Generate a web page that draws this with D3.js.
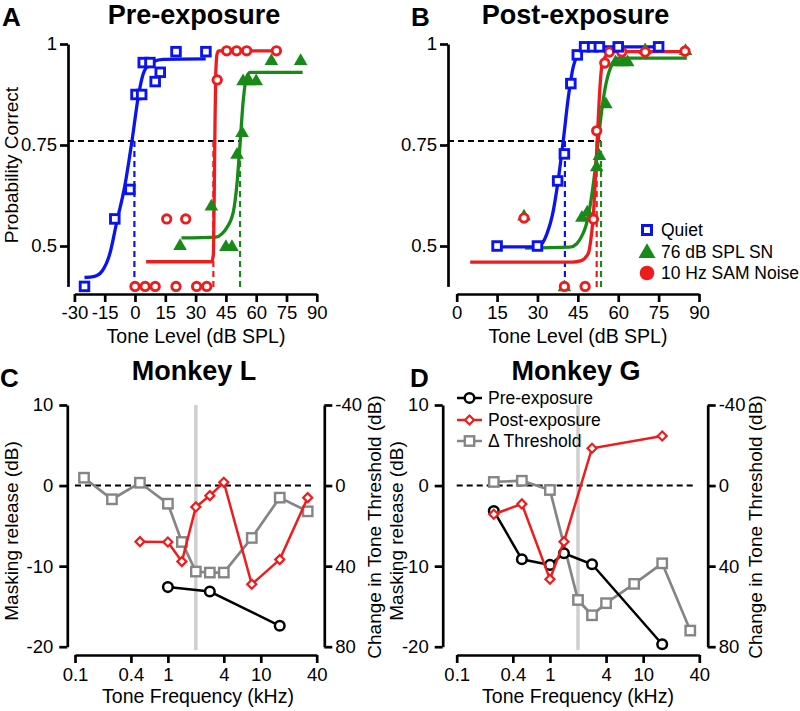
<!DOCTYPE html>
<html><head><meta charset="utf-8">
<script src="https://cdn.jsdelivr.net/npm/d3@7"></script>
<style>body{margin:0;background:#fff} svg{display:block} text{font-family:"Liberation Sans",Arial,Helvetica,sans-serif}</style>
</head><body><svg id="c" width="800" height="711"></svg>
<script>
// ---------- Panel A (pre-exposure) data: [tone level dB SPL, probability correct]
const aQuiet = [[-25,0.40],[-10,0.567],[-2.5,0.64],[0.5,0.875],[3.3,0.875],[4.1,0.954],[7.4,0.954],[10,0.907],[12.5,0.93],[20.3,0.981],[35.1,0.981]];
const aSN = [[22.3,0.502],[37.8,0.60],[45,0.50],[48,0.50],[50.5,0.728],[53,0.782],[53.5,0.91],[56.5,0.91],[60,0.91],[67.5,0.96],[82,0.96]];
const aSAM = [[0,0.40],[5,0.40],[10,0.40],[20.3,0.40],[30.5,0.40],[35.5,0.40],[15.7,0.567],[25.1,0.567],[40.7,0.911],[45.4,0.983],[50.3,0.983],[55.3,0.983],[70,0.983]];
const aQuietFit = [[-25,0.422],[-20,0.425],[-16,0.44],[-12.5,0.48],[-9,0.56],[-5,0.65],[-1.5,0.76],[1.7,0.872],[4,0.925],[6,0.945],[9,0.956],[14,0.962],[35,0.963]];
const aSNFit = [[23,0.52],[40,0.522],[43,0.53],[45.4,0.545],[48.7,0.585],[50.6,0.66],[52,0.752],[53.6,0.861],[55.3,0.919],[57,0.93],[83,0.93]];
const aSAMFit = [[5.5,0.461],[38,0.461],[38.8,0.48],[39.2,0.62],[39.6,0.8],[40,0.93],[40.6,0.975],[41.5,0.983],[70,0.983]];
const aThresholds = [-0.3, 52, 38.8];   // Quiet, SN, SAM

// ---------- Panel B (post-exposure) data
const bQuiet = [[15,0.5],[30,0.5],[37.5,0.661],[40,0.728],[42.4,0.902],[44.8,0.973],[47.5,0.993],[50.5,0.993],[53,0.993],[60,0.993],[75,0.993]];
const bSN = [[25,0.575],[40,0.40],[46.5,0.572],[48.5,0.585],[52,0.697],[53,0.725],[55.4,0.853],[59,0.957],[61.5,0.957],[63.5,0.957],[70,0.987],[85,0.985]];
const bSAM = [[25,0.569],[40,0.40],[47.7,0.40],[50.8,0.566],[52,0.785],[55,0.953],[56.7,0.98],[61.3,0.98],[70,0.98],[84.8,0.982]];
const bQuietFit = [[15,0.498],[29,0.498],[31.5,0.505],[33.5,0.53],[35.5,0.575],[37.7,0.663],[39.6,0.762],[41.5,0.87],[43.3,0.944],[45.2,0.977],[47,0.99],[49,0.993],[75,0.993]];
const bSNFit = [[25.4,0.495],[42,0.497],[44.5,0.505],[46.5,0.525],[48,0.55],[49.5,0.597],[51.4,0.688],[52.6,0.762],[53.9,0.837],[55.5,0.903],[57.6,0.948],[60,0.965],[85.5,0.965]];
const bSAMFit = [[5,0.46],[43,0.46],[46,0.463],[48.9,0.482],[50.1,0.531],[50.8,0.58],[51.6,0.68],[52.2,0.762],[53,0.87],[53.9,0.944],[55.7,0.973],[58.2,0.981],[85.5,0.981]];
const bThresholds = [40.2, 53.6, 52];

const probTicks = [0.5, 0.75, 1];
const levelTicksA = [-30,-15,0,15,30,45,60,75,90];
const levelTicksB = [0,15,30,45,60,75,90];
const legendB = ["Quiet", "76 dB SPL SN", "10 Hz SAM Noise"];

// ---------- Panel C (Monkey L): frequency kHz, masking release dB, change in threshold dB
const cPreF = [1, 2.828, 16];
const cPre = [-12.6, -13.15, -17.4];
const cPostF = [0.5, 1, 1.414, 2, 2.828, 4, 8, 16, 32];
const cPost = [-6.96, -7.0, -9.44, -2.65, -1.25, 0.41, -12.25, -9.19, -1.5];
const cDeltaF = [0.125, 0.25, 0.5, 1, 1.414, 2, 2.828, 4, 8, 16, 32];
const cDelta = [-3.9, 6.8, -1.4, 9.0, 28.0, 42.7, 43.2, 43.2, 26.0, 6.0, 12.8];

// ---------- Panel D (Monkey G)
const dPreF = [0.25, 0.5, 1, 1.414, 2.828, 16];
const dPre = [-3.15, -9.15, -9.85, -8.4, -9.77, -19.7];
const dPostF = [0.25, 0.5, 1, 1.414, 2.828, 16];
const dPost = [-3.56, -2.28, -11.63, -6.96, 4.63, 6.15];
const dDeltaF = [0.25, 0.5, 1, 2, 2.828, 4, 8, 16, 32];
const dDelta = [-1.8, -2.4, 2.2, 56.8, 64.4, 58.4, 48.8, 38.6, 72.0];

const freqTicks = [0.1, 0.4, 1, 4, 10, 40];
const releaseTicks = [10, 0, -10, -20];
const changeTicks = [-40, 0, 40, 80];
const exposureFreq = 2;
const legendD = ["Pre-exposure", "Post-exposure", "\u0394 Threshold"];

// ---------- drawing
const BLUE = "#0a14f0", GREEN = "#188a18", RED = "#ee1c1c", GRAY = "#858585", LGRAY = "#cfcfcf";
const svg = d3.select("#c");
const FS_TICK = 18.5, FS_LAB = 19.5;

function styleAxis(g) {
  g.selectAll("path.domain").attr("stroke", "#000").attr("stroke-width", 2.7);
  g.selectAll(".tick line").attr("stroke", "#000").attr("stroke-width", 2.7);
  g.selectAll(".tick text").attr("fill", "#000").style("font-size", FS_TICK + "px")
    .style("font-family", '"Liberation Sans",Arial,sans-serif');
}

function text(x, y, s, opts = {}) {
  const t = svg.append("text").attr("x", x).attr("y", y).text(s)
    .attr("text-anchor", opts.anchor || "middle")
    .style("font-size", (opts.size || FS_LAB) + "px")
    .style("font-weight", opts.bold ? "bold" : "normal")
    .attr("fill", "#000");
  if (opts.rot) t.attr("transform", `rotate(${opts.rot},${x},${y})`);
  return t;
}

function psychPanel(cfg) {
  const x = d3.scaleLinear().domain(cfg.xdom).range(cfg.xr);
  const y = d3.scaleLinear().domain([0.4, 1]).range([286.4, 44]);
  const g = svg.append("g");
  const ya = g.append("g").attr("transform", `translate(${cfg.yx},0)`)
    .call(d3.axisLeft(y).tickValues(probTicks).tickSize(8).tickSizeOuter(0).tickPadding(3).tickFormat(d => String(d)));
  styleAxis(ya);
  const xa = g.append("g").attr("transform", `translate(0,294)`)
    .call(d3.axisBottom(x).tickValues(cfg.xticks).tickSize(8).tickSizeOuter(0).tickPadding(4).tickFormat(d => String(d)));
  styleAxis(xa);
  const th = cfg.th;
  const dash = "6,4";
  g.append("line").attr("x1", cfg.yx).attr("x2", x(d3.max(th))).attr("y1", y(0.76)).attr("y2", y(0.76))
    .attr("stroke", "#000").attr("stroke-width", 2).attr("stroke-dasharray", dash);
  const cols = [BLUE, GREEN, RED];
  th.forEach((t, i) => {
    g.append("line").attr("x1", x(t)).attr("x2", x(t)).attr("y1", y(0.76)).attr("y2", y(0.4) + 3)
      .attr("stroke", cols[i]).attr("stroke-width", 2.2).attr("stroke-dasharray", dash);
  });
  const line = d3.line().x(d => x(d[0])).y(d => y(d[1])).curve(d3.curveMonotoneX);
  [[cfg.snFit, GREEN], [cfg.samFit, RED], [cfg.quietFit, BLUE]].forEach(([d, c]) => {
    g.append("path").datum(d).attr("d", line).attr("fill", "none").attr("stroke", c).attr("stroke-width", 3.3);
  });
  const tri = d3.symbol().type(d3.symbolTriangle).size(80);
  g.selectAll(null).data(cfg.sn).join("path").attr("d", tri)
    .attr("transform", d => `translate(${x(d[0])},${y(d[1]) + 1})`).attr("fill", GREEN);
  g.selectAll(null).data(cfg.sam).join("circle").attr("cx", d => x(d[0])).attr("cy", d => y(d[1])).attr("r", 4.2)
    .attr("fill", "#fff").attr("stroke", RED).attr("stroke-width", 2.9);
  g.selectAll(null).data(cfg.quiet).join("rect").attr("x", d => x(d[0]) - 4.3).attr("y", d => y(d[1]) - 4.3)
    .attr("width", 8.6).attr("height", 8.6).attr("fill", "#fff").attr("stroke", BLUE).attr("stroke-width", 2.9);
  return { x, y };
}

psychPanel({ xdom: [-30, 90], xr: [74.4, 316.8], yx: 68, xticks: levelTicksA, th: aThresholds,
  quiet: aQuiet, sn: aSN, sam: aSAM, quietFit: aQuietFit, snFit: aSNFit, samFit: aSAMFit });
psychPanel({ xdom: [0, 90], xr: [456.7, 699], yx: 448, xticks: levelTicksB, th: bThresholds,
  quiet: bQuiet, sn: bSN, sam: bSAM, quietFit: bQuietFit, snFit: bSNFit, samFit: bSAMFit });

// legend B
{
  const g = svg.append("g");
  const ys = [230, 252, 273];
  g.append("rect").attr("x", 647 - 4.5).attr("y", ys[0] - 4.5).attr("width", 9).attr("height", 9)
    .attr("fill", "#fff").attr("stroke", BLUE).attr("stroke-width", 3);
  g.append("path").attr("d", d3.symbol().type(d3.symbolTriangle).size(125)())
    .attr("transform", `translate(647,${ys[1] + 1})`).attr("fill", GREEN);
  g.append("circle").attr("cx", 647).attr("cy", ys[2]).attr("r", 7.3).attr("fill", RED);
  legendB.forEach((s, i) => text(661, ys[i] + 6, s, { anchor: "start", size: 17.5 }));
}

function freqPanel(cfg) {
  const x = d3.scaleLog().domain([0.1, 40]).range(cfg.xr);
  const yL = d3.scaleLinear().domain([-20, 10]).range([646.7, 405]);
  const yR = d3.scaleLinear().domain([80, -40]).range([646.7, 405]);
  const g = svg.append("g");
  g.append("line").attr("x1", x(exposureFreq)).attr("x2", x(exposureFreq)).attr("y1", 405).attr("y2", 650)
    .attr("stroke", LGRAY).attr("stroke-width", 3.5);
  g.append("line").attr("x1", x(0.1)).attr("x2", x(36)).attr("y1", yL(0)).attr("y2", yL(0))
    .attr("stroke", "#000").attr("stroke-width", 2).attr("stroke-dasharray", "6,4");
  const la = g.append("g").attr("transform", `translate(${cfg.lx},0)`)
    .call(d3.axisLeft(yL).tickValues(releaseTicks).tickSize(8).tickSizeOuter(0).tickPadding(6).tickFormat(d => String(d)));
  styleAxis(la);
  const ra = g.append("g").attr("transform", `translate(${cfg.rx},0)`)
    .call(d3.axisRight(yR).tickValues(changeTicks).tickSize(8).tickSizeOuter(0).tickPadding(3).tickFormat(d => String(d)));
  styleAxis(ra);
  const xa = g.append("g").attr("transform", `translate(0,655)`)
    .call(d3.axisBottom(x).tickValues(freqTicks).tickSize(8).tickSizeOuter(0).tickPadding(5).tickFormat(d => String(d)));
  styleAxis(xa);
  const lineL = d3.line().x(d => x(d[0])).y(d => yL(d[1]));
  const lineR = d3.line().x(d => x(d[0])).y(d => yR(d[1]));
  const delta = cfg.deltaF.map((f, i) => [f, cfg.delta[i]]);
  const pre = cfg.preF.map((f, i) => [f, cfg.pre[i]]);
  const post = cfg.postF.map((f, i) => [f, cfg.post[i]]);
  g.append("path").datum(delta).attr("d", lineR).attr("fill", "none").attr("stroke", GRAY).attr("stroke-width", 2.7);
  g.selectAll(null).data(delta).join("rect").attr("x", d => x(d[0]) - 4.7).attr("y", d => yR(d[1]) - 4.7)
    .attr("width", 9.4).attr("height", 9.4).attr("fill", "#fff").attr("stroke", GRAY).attr("stroke-width", 2.4);
  g.append("path").datum(pre).attr("d", lineL).attr("fill", "none").attr("stroke", "#000").attr("stroke-width", 2.5);
  g.selectAll(null).data(pre).join("circle").attr("cx", d => x(d[0])).attr("cy", d => yL(d[1])).attr("r", 4.8)
    .attr("fill", "#fff").attr("stroke", "#000").attr("stroke-width", 2.5);
  g.append("path").datum(post).attr("d", lineL).attr("fill", "none").attr("stroke", RED).attr("stroke-width", 2.5);
  g.selectAll(null).data(post).join("rect").attr("x", -3.2).attr("y", -3.2).attr("width", 6.4).attr("height", 6.4)
    .attr("transform", d => `translate(${x(d[0])},${yL(d[1])}) rotate(45)`)
    .attr("fill", "#fff").attr("stroke", RED).attr("stroke-width", 2.2);
  return g;
}

freqPanel({ xr: [75, 316.7], lx: 67.3, rx: 324.3, preF: cPreF, pre: cPre, postF: cPostF, post: cPost, deltaF: cDeltaF, delta: cDelta });
freqPanel({ xr: [456.7, 699.3], lx: 442.7, rx: 707.7, preF: dPreF, pre: dPre, postF: dPostF, post: dPost, deltaF: dDeltaF, delta: dDelta });

// legend D
{
  const g = svg.append("g");
  const ys = [398, 420, 441];
  const cols = ["#000", RED, GRAY];
  ys.forEach((yy, i) => {
    g.append("line").attr("x1", 457).attr("x2", 482).attr("y1", yy).attr("y2", yy).attr("stroke", cols[i]).attr("stroke-width", 2.5);
    text(488, yy + 6, legendD[i], { anchor: "start", size: 17.5 });
  });
  g.append("circle").attr("cx", 469.5).attr("cy", ys[0]).attr("r", 4.8).attr("fill", "#fff").attr("stroke", "#000").attr("stroke-width", 2.5);
  g.append("rect").attr("x", -3.2).attr("y", -3.2).attr("width", 6.4).attr("height", 6.4)
    .attr("transform", `translate(469.5,${ys[1]}) rotate(45)`).attr("fill", "#fff").attr("stroke", RED).attr("stroke-width", 2.2);
  g.append("rect").attr("x", 464.8).attr("y", ys[2] - 4.7).attr("width", 9.4).attr("height", 9.4).attr("fill", "#fff").attr("stroke", GRAY).attr("stroke-width", 2.4);
}

// titles and labels
text(2, 26, "A", { anchor: "start", bold: true, size: 26 });
text(411, 26, "B", { anchor: "start", bold: true, size: 26 });
text(0, 387, "C", { anchor: "start", bold: true, size: 26 });
text(410, 387, "D", { anchor: "start", bold: true, size: 26 });
text(194, 24, "Pre-exposure", { bold: true, size: 27 });
text(575.5, 24, "Post-exposure", { bold: true, size: 27 });
text(194, 380, "Monkey L", { bold: true, size: 27 });
text(576, 380, "Monkey G", { bold: true, size: 27 });
text(18, 165, "Probability Correct", { rot: -90, size: 19 });
text(196, 343, "Tone Level (dB SPL)");
text(578, 343, "Tone Level (dB SPL)");
text(18, 531, "Masking release (dB)", { rot: -90, size: 19 });
text(403, 531, "Masking release (dB)", { rot: -90, size: 19 });
text(381, 527, "Change in Tone Threshold (dB)", { rot: -90, size: 19 });
text(762, 527, "Change in Tone Threshold (dB)", { rot: -90, size: 19 });
text(198, 703, "Tone Frequency (kHz)");
text(578, 703, "Tone Frequency (kHz)");
</script></body></html>
